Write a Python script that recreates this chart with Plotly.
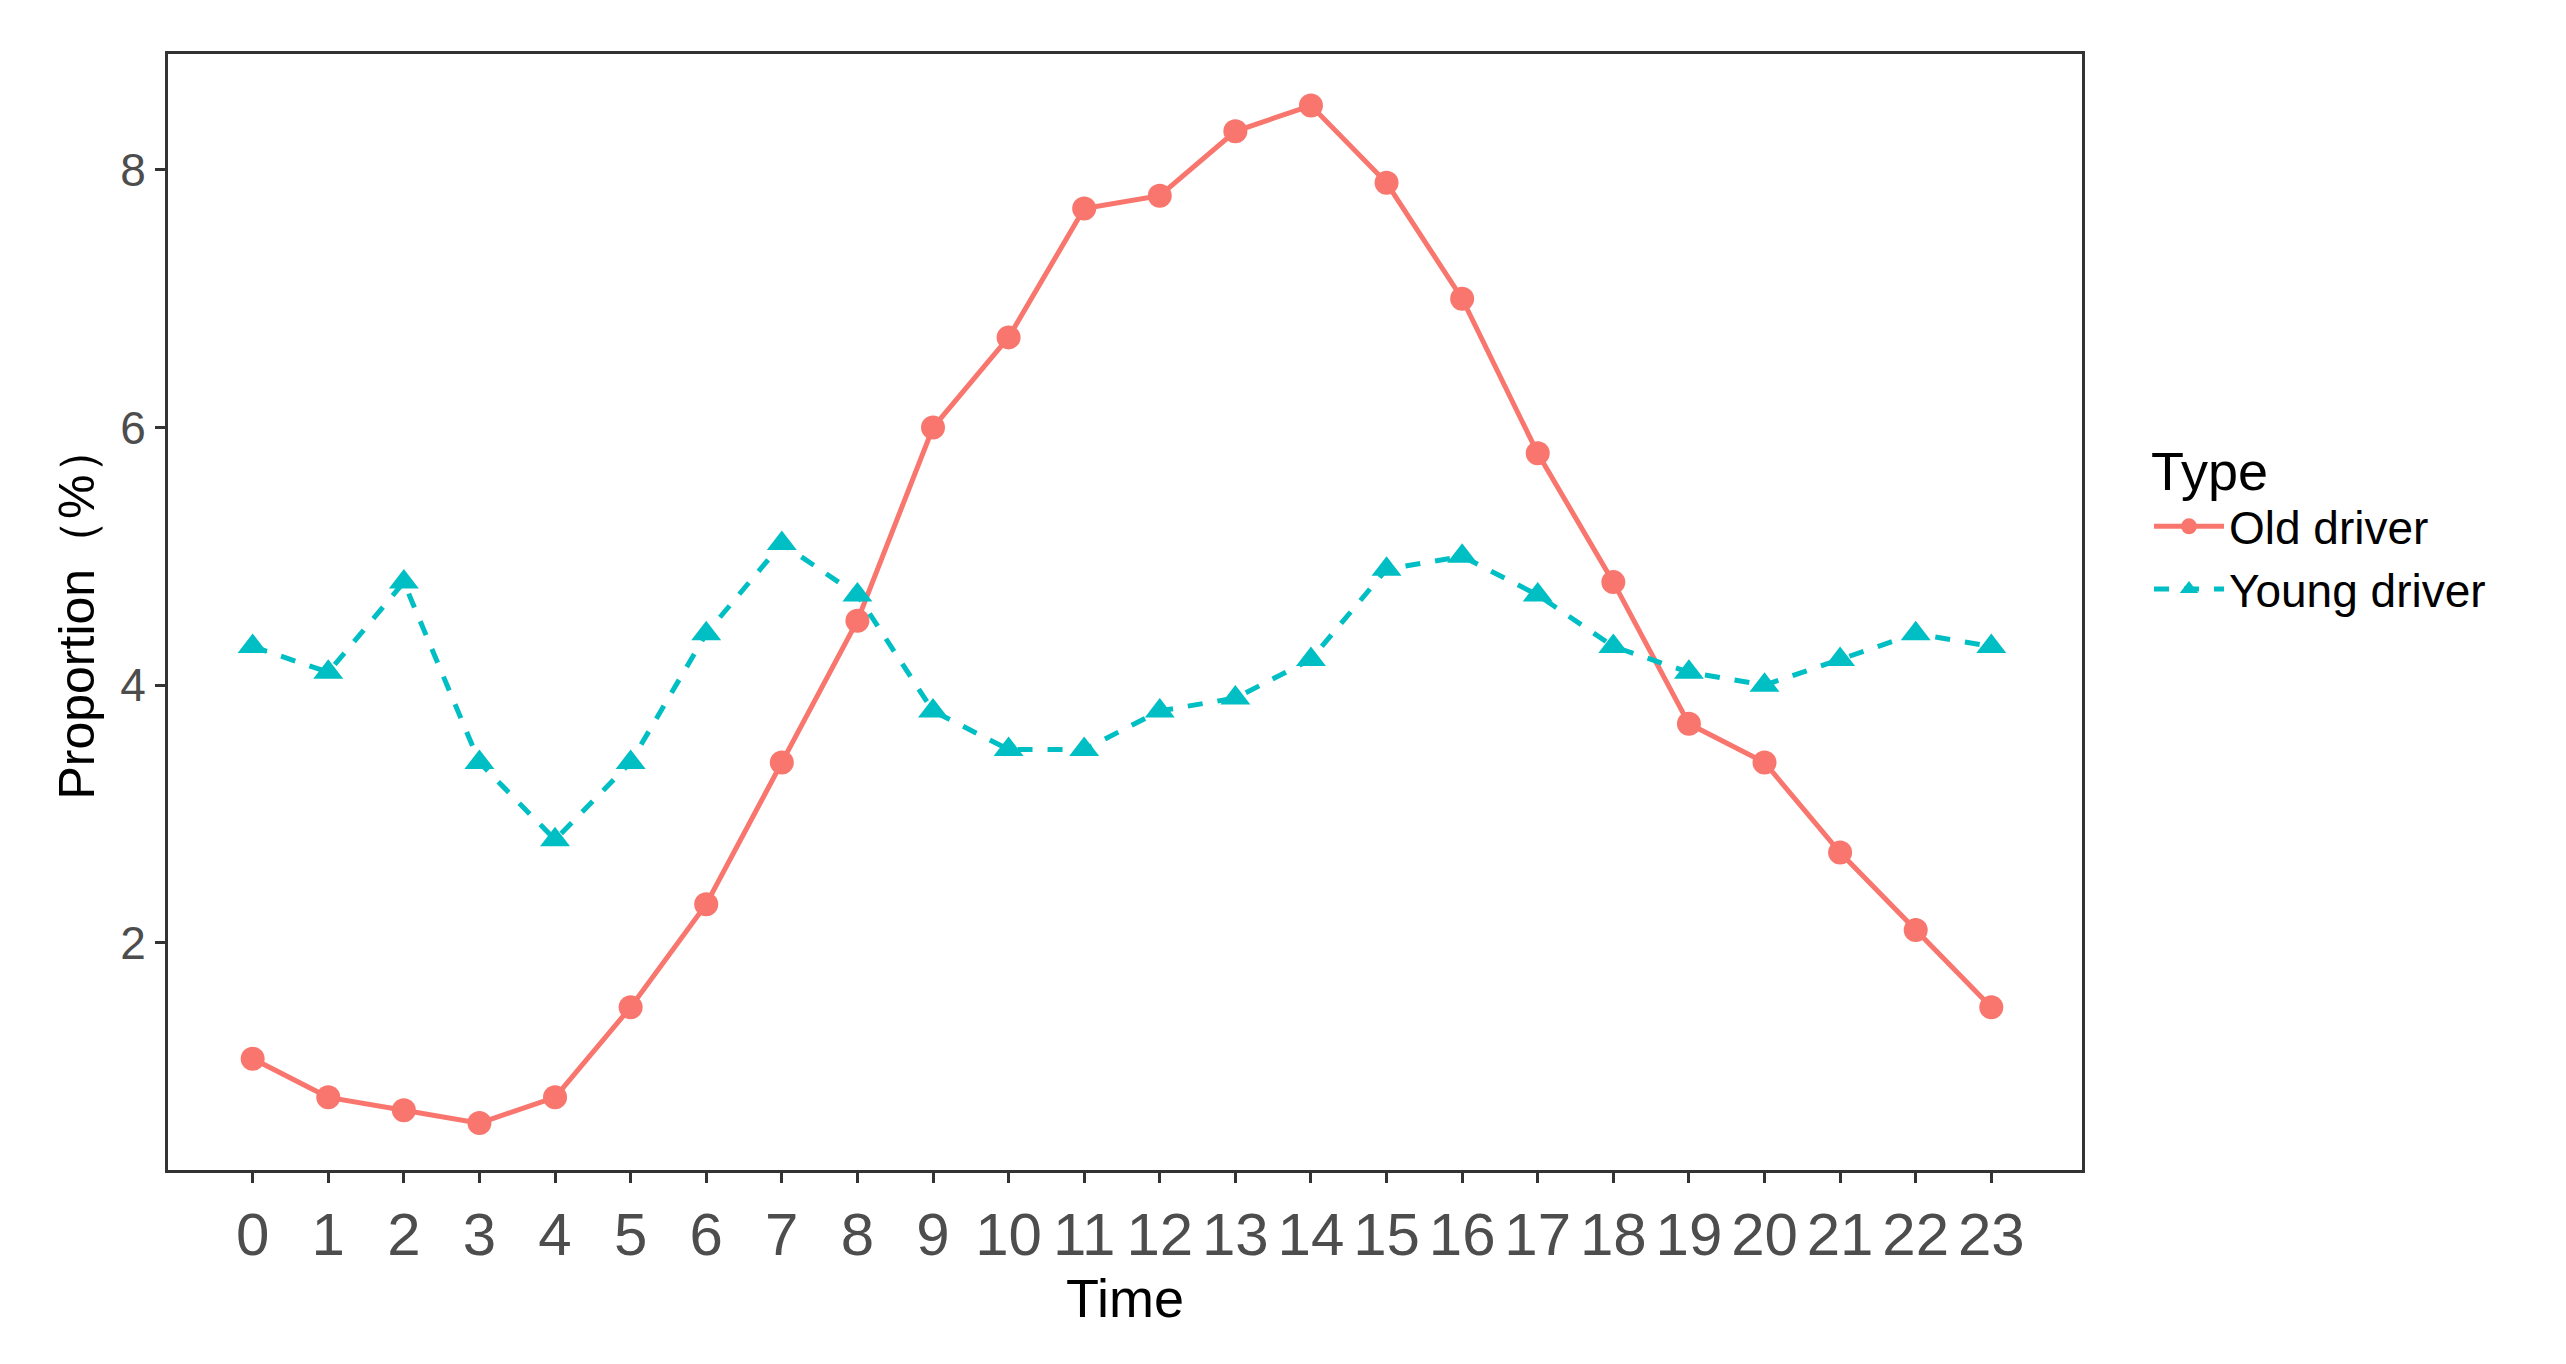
import plotly.graph_objects as go

hours = list(range(24))
old_driver = [1.1,0.8,0.7,0.6,0.8,1.5,2.3,3.4,4.5,6.0,6.7,7.7,7.8,8.3,8.5,7.9,7.0,5.8,4.8,3.7,3.4,2.7,2.1,1.5]
young_driver = [4.3,4.1,4.8,3.4,2.8,3.4,4.4,5.1,4.7,3.8,3.5,3.5,3.8,3.9,4.2,4.9,5.0,4.7,4.3,4.1,4.0,4.2,4.4,4.3]
y_ticks = [2, 4, 6, 8]

fig = go.Figure()
fig.add_trace(go.Scatter(x=hours, y=old_driver, mode="lines+markers", name="Old driver",
                         line=dict(color="#F8766D", width=5),
                         marker=dict(symbol="circle", size=24, color="#F8766D")))
fig.add_trace(go.Scatter(x=hours, y=young_driver, mode="lines+markers", name="Young driver",
                         line=dict(color="#00BFC4", width=5, dash="dash"),
                         marker=dict(symbol="triangle-up", size=26, color="#00BFC4")))

fig.update_layout(
    width=2566, height=1364, paper_bgcolor="white", plot_bgcolor="white",
    margin=dict(l=160, r=492, t=46, b=202),
    font=dict(family="Liberation Sans, Arial", color="black"),
    xaxis=dict(range=[-1.12, 24.2], tickvals=hours, ticktext=[str(h) for h in hours],
               tickfont=dict(size=60, color="#4D4D4D"), showgrid=False, zeroline=False,
               showline=True, mirror=True, linecolor="#333333", linewidth=3,
               ticks="outside", ticklen=10, tickwidth=3, tickcolor="#333333",
               title=dict(text="Time", font=dict(size=54), standoff=6)),
    yaxis=dict(range=[0.236, 8.9], tickvals=y_ticks,
               tickfont=dict(size=46, color="#4D4D4D"), showgrid=False, zeroline=False,
               showline=True, mirror=True, linecolor="#333333", linewidth=3,
               ticks="outside", ticklen=10, tickwidth=3, tickcolor="#333333",
               title=dict(text="Proportion（%）", font=dict(size=50), standoff=10)),
    legend=dict(x=1.035, y=0.58, xanchor="left", yanchor="middle",
                title=dict(text="Type", font=dict(size=54)), font=dict(size=46),
                itemwidth=70),
)
fig.write_html("out.html")
